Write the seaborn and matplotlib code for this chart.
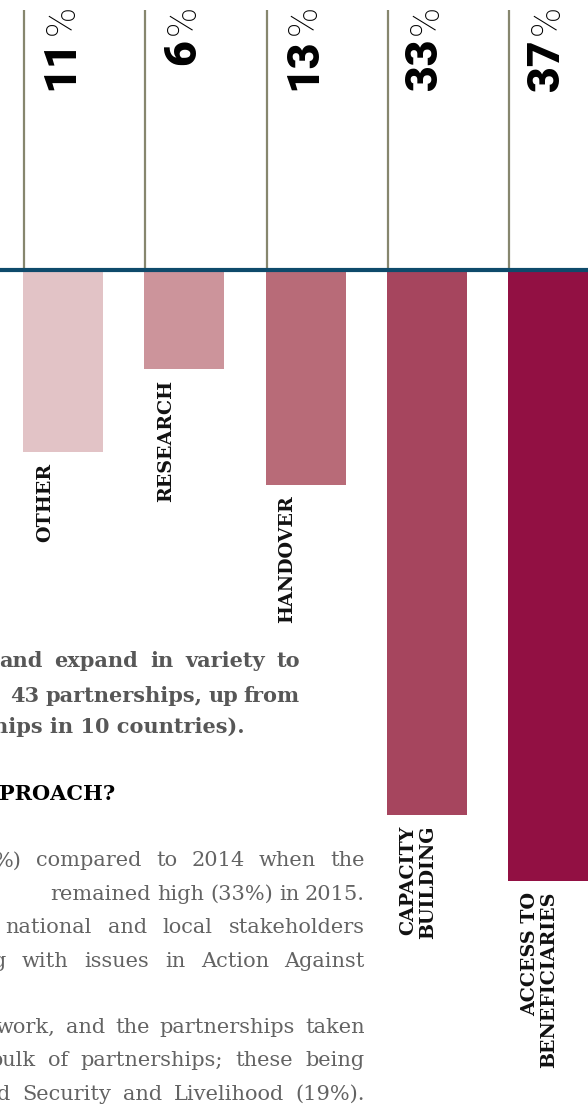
import matplotlib
matplotlib.use("Agg")
import matplotlib.pyplot as plt
import seaborn as sns
import pandas as pd

# Chart data
categories = ["OTHER", "RESEARCH", "HANDOVER", "CAPACITY\nBUILDING", "ACCESS TO\nBENEFICIARIES"]
shares = [11, 6, 13, 33, 37]
bar_colors = ["#e2c3c6", "#cc949b", "#b86b78", "#a6455e", "#921043"]

# Running body text beside the chart (lines clipped by the page column)
bold_lines = ["and expand in variety to", "43 partnerships, up from"]
bold_last = "hips in 10 countries)."
heading = "PROACH?"
body_par1 = ["%) compared to 2014 when the",
             "remained high (33%) in 2015.",
             "national and local stakeholders",
             "g with issues in Action Against"]
body_par2 = ["work, and the partnerships taken",
             "bulk of partnerships; these being",
             "d Security and Livelihood (19%)."]

W, H = 588, 1107
X0, STEP = 63.0, 121.25     # pixel centre of first bar, pixel spacing of bars
BASE, S = 270.0, 16.5       # pixel row of the baseline, pixels per percent


def dx(px):
    return (px - X0) / STEP


def dy(py):
    return (py - BASE) / S


fig = plt.figure(figsize=(W / 100, H / 100), dpi=100)
fig.patch.set_facecolor("white")
ax = fig.add_axes([0, 0, 1, 1])

df = pd.DataFrame({"category": categories, "share": shares})
sns.barplot(data=df, x="category", y="share", hue="category", order=categories,
            palette=bar_colors, saturation=1, width=80 / STEP, legend=False, ax=ax,
            zorder=2)
ax.set_xlim(dx(0), dx(W))
ax.set_ylim(dy(H), dy(0))
ax.axis("off")

# baseline and separators
ax.axhline(0, color="#0e4a6b", lw=3, zorder=4)
sep_x = [i - 39 / STEP for i in range(len(categories))]
ax.vlines(sep_x, dy(10), dy(268), color="#86866e", lw=1.6, zorder=3)

# value labels: heavy number + light percent sign
for i, v in enumerate(shares):
    x = i + 10.6 / STEP
    ax.text(x, dy(39), f"{v}", rotation=90, rotation_mode="anchor",
            ha="right", va="baseline", fontsize=32, fontweight="black",
            family="Roboto", color="black")
    ax.text(x, dy(35), "%", rotation=90, rotation_mode="anchor",
            ha="left", va="baseline", fontsize=29, fontweight="light",
            family="Roboto", color="black")

# category labels under each bar
for i, (lab, v) in enumerate(zip(categories, shares)):
    ax.text(i - 27 / STEP, v + 11 / S, lab, rotation=90, rotation_mode="anchor",
            ha="right", va="top", multialignment="right", fontsize=13.7,
            fontweight="bold", family="DejaVu Serif",
            color="#111111", linespacing=1.1)

renderer = fig.canvas.get_renderer()


def justify(line, left, right, base, min_gap, **kw):
    words = line.split(" ")
    objs = [fig.text(0, 1 - base / H, w, ha="left", va="baseline", **kw) for w in words]
    widths = [o.get_window_extent(renderer).width for o in objs]
    n_gaps = max(len(words) - 1, 1)
    gap = max((right - left - sum(widths)) / n_gaps, min_gap)
    x = right - sum(widths) - gap * (len(words) - 1)
    for o, w in zip(objs, widths):
        o.set_x(x / W)
        x += w + gap


bold_kw = dict(family="DejaVu Serif", fontweight="bold", fontsize=15, color="#575757")
reg_kw = dict(family="DejaVu Serif", fontsize=15, color="#636363")

justify(bold_lines[0], -1, 300, 667, 6, **bold_kw)
justify(bold_lines[1], 10, 300, 701.5, 6, **bold_kw)
fig.text(245 / W, 1 - 733 / H, bold_last, ha="right", va="baseline", **bold_kw)
fig.text(115 / W, 1 - 800 / H, heading, ha="right", va="baseline",
         family="DejaVu Serif", fontweight="bold", fontsize=15, color="black")

for line, left, base in zip(body_par1, [-6, 123, 5, -7], [866.5, 900, 933.3, 966.7]):
    justify(line, left, 365, base, 6, **reg_kw)
for line, left, base in zip(body_par2, [-4, -11, -3], [1033, 1066.5, 1100]):
    justify(line, left, 365, base, 6, **reg_kw)

fig.savefig("out.png", dpi=100, facecolor="white")
